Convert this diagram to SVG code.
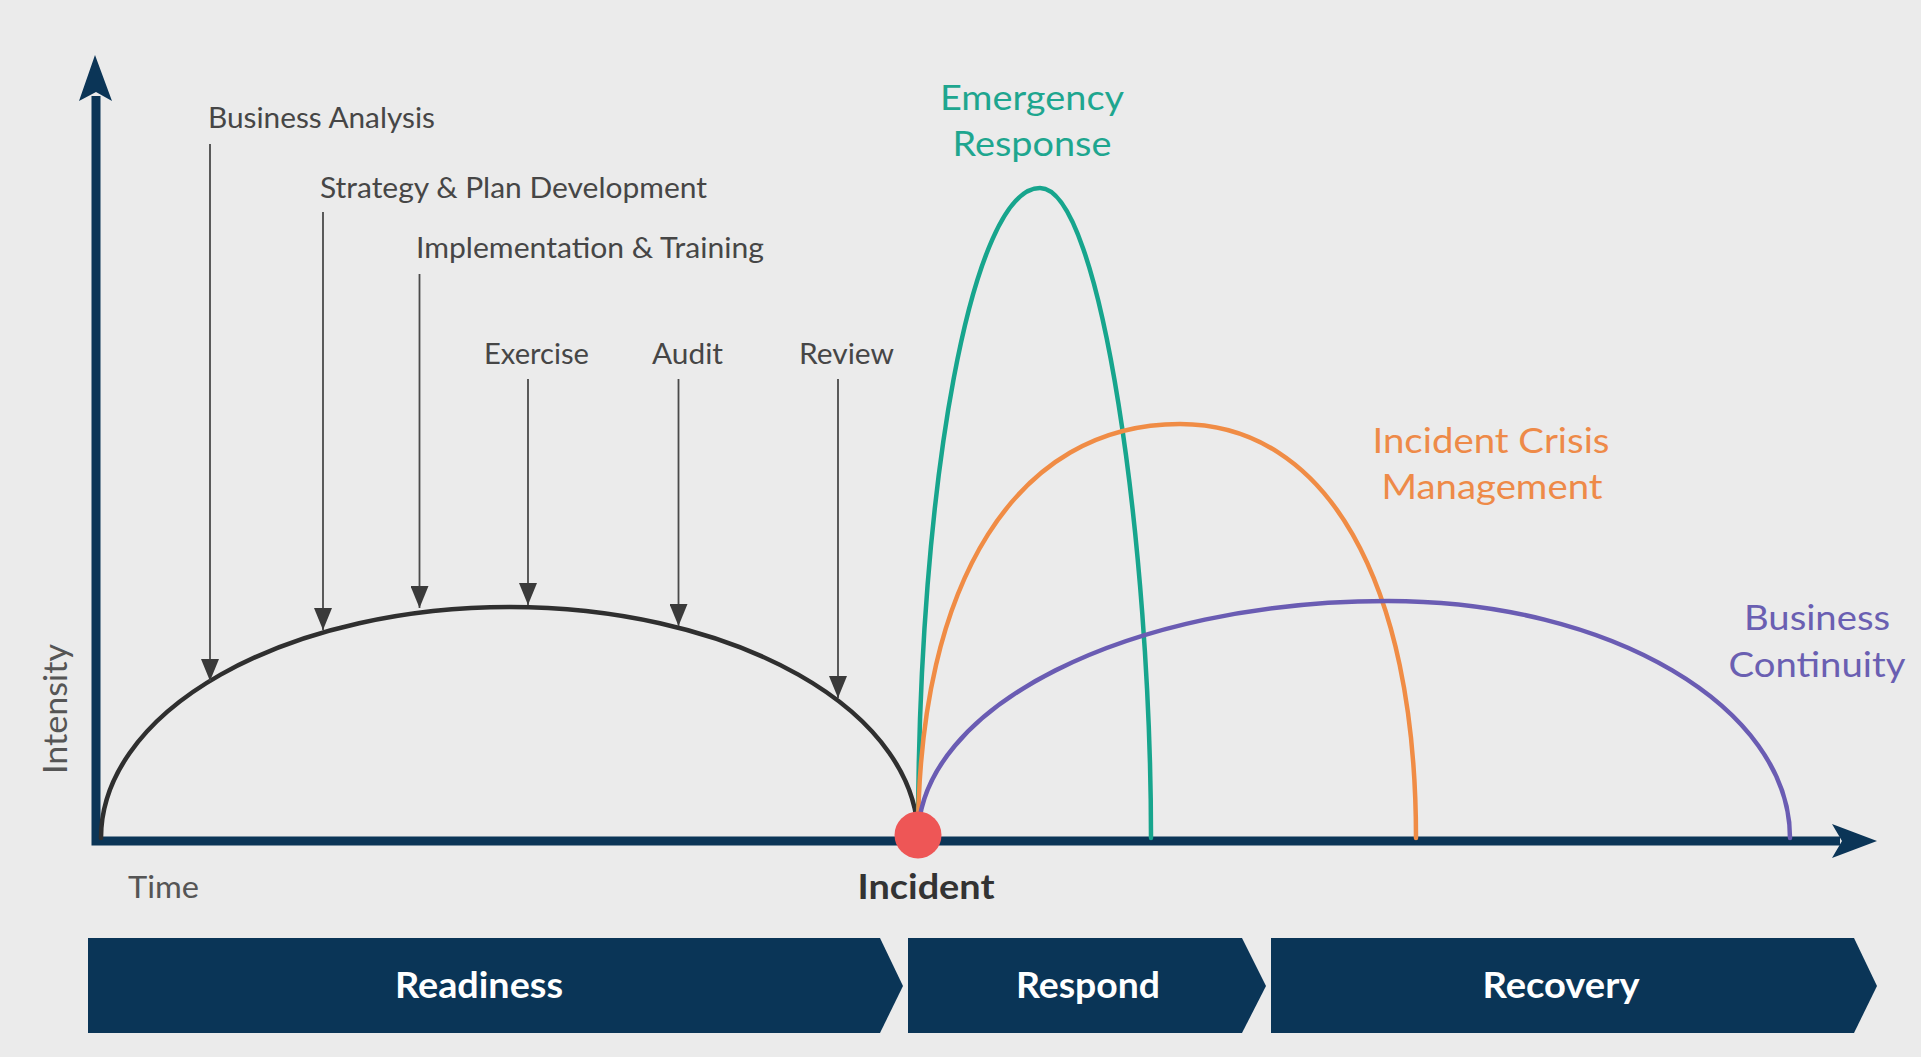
<svg xmlns="http://www.w3.org/2000/svg" width="1921" height="1057" viewBox="0 0 1921 1057">
<defs>
<style>
.lbl{font-family:Lato,"Open Sans","Liberation Sans",sans-serif;font-size:29px;fill:#464646}
.big{font-family:Lato,"Open Sans","Liberation Sans",sans-serif;font-size:35px}
.bar{fill:#0a3557}
.bartxt{font-family:Lato,"Open Sans","Liberation Sans",sans-serif;font-size:36px;font-weight:bold;fill:#ffffff;text-anchor:middle}
.pin{stroke:#4a4a4a;stroke-width:1.8;fill:none;marker-end:url(#ah)}
.curve{fill:none;stroke-width:4.5;stroke-linecap:round}
</style>
<marker id="ah" viewBox="0 0 22 18" refX="22" refY="9" markerWidth="22" markerHeight="18" markerUnits="userSpaceOnUse" orient="auto">
<path d="M0,0 L22,9 L0,18 z" fill="#3a3a3a"/>
</marker>
</defs>
<rect x="0" y="0" width="1921" height="1057" fill="#ebebeb"/>

<g id="axes">
<path d="M96,96 L96,841 L1840,841" fill="none" stroke="#0b3557" stroke-width="9" stroke-linejoin="miter"/>
<polygon points="95,55 112,101 96,92 79,101" fill="#0b3557"/>
<polygon points="1877,841 1832,824 1842,841 1832,858" fill="#0b3557"/>
<text x="67" y="709" transform="rotate(-90 67 709)" text-anchor="middle" textLength="130" lengthAdjust="spacingAndGlyphs" style="font-family:Lato,'Open Sans','Liberation Sans',sans-serif;font-size:32px;fill:#555">Intensity</text>
<text x="128" y="898" textLength="71" lengthAdjust="spacingAndGlyphs" style="font-family:Lato,'Open Sans','Liberation Sans',sans-serif;font-size:31px;fill:#555">Time</text>
</g>

<g id="readiness-curve">
<path class="curve" d="M101,838 A408.5,231 0 0 1 918,838" stroke="#2f2f2f"/>
</g>

<g id="emergency-response">
<path class="curve" d="M918,838 C918,479 972.6,188 1040,188 C1101.3,188 1151,547 1151,838" stroke="#17a58d"/>
<text class="big" x="1032" y="110" text-anchor="middle" textLength="184" lengthAdjust="spacingAndGlyphs" fill="#1ea68f">Emergency</text>
<text class="big" x="1032" y="156" text-anchor="middle" textLength="159" lengthAdjust="spacingAndGlyphs" fill="#1ea68f">Response</text>
</g>

<g id="incident-crisis-management">
<path class="curve" d="M918,838 C918,581 1017,424 1180,424 C1326,424 1416,581 1416,838" stroke="#f08c45"/>
<text class="big" x="1491" y="453" text-anchor="middle" textLength="237" lengthAdjust="spacingAndGlyphs" fill="#ee8a48">Incident Crisis</text>
<text class="big" x="1492" y="499" text-anchor="middle" textLength="221" lengthAdjust="spacingAndGlyphs" fill="#ee8a48">Management</text>
</g>

<g id="business-continuity">
<path class="curve" d="M918,838 C918,707 1128,601 1388,601 C1610,601 1790,707 1790,838" stroke="#6a5cb3"/>
<text class="big" x="1817" y="630" text-anchor="middle" textLength="146" lengthAdjust="spacingAndGlyphs" fill="#6a5fb2">Business</text>
<text class="big" x="1817" y="677" text-anchor="middle" textLength="177" lengthAdjust="spacingAndGlyphs" fill="#6a5fb2">Continuity</text>
</g>

<g id="incident">
<circle cx="918" cy="835" r="23.5" fill="#ee5656"/>
<text x="926" y="899" text-anchor="middle" textLength="137" lengthAdjust="spacingAndGlyphs" style="font-family:Lato,'Open Sans','Liberation Sans',sans-serif;font-size:35px;font-weight:bold;fill:#333">Incident</text>
</g>

<g id="activity-labels">
<text class="lbl" x="208" y="128" textLength="227" lengthAdjust="spacingAndGlyphs">Business Analysis</text>
<text class="lbl" x="320" y="198" textLength="387" lengthAdjust="spacingAndGlyphs">Strategy &amp; Plan Development</text>
<text class="lbl" x="416" y="258" textLength="348" lengthAdjust="spacingAndGlyphs">Implementation &amp; Training</text>
<text class="lbl" x="484" y="364" textLength="105" lengthAdjust="spacingAndGlyphs">Exercise</text>
<text class="lbl" x="652" y="364" textLength="71" lengthAdjust="spacingAndGlyphs">Audit</text>
<text class="lbl" x="799" y="364" textLength="95" lengthAdjust="spacingAndGlyphs">Review</text>
</g>

<g id="connectors">
<line class="pin" x1="210" y1="144" x2="210" y2="681"/>
<line class="pin" x1="323" y1="212" x2="323" y2="630"/>
<line class="pin" x1="419.5" y1="274" x2="419.5" y2="608"/>
<line class="pin" x1="528" y1="379" x2="528" y2="605"/>
<line class="pin" x1="678.5" y1="379" x2="678.5" y2="626"/>
<line class="pin" x1="838" y1="379" x2="838" y2="698"/>
</g>

<g id="phase-readiness">
<polygon class="bar" points="88,938 880,938 903,986 880,1033 88,1033"/>
<text class="bartxt" x="479" y="998" textLength="168" lengthAdjust="spacingAndGlyphs">Readiness</text>
</g>
<g id="phase-respond">
<polygon class="bar" points="908,938 1242,938 1266,986 1242,1033 908,1033"/>
<text class="bartxt" x="1088" y="998" textLength="144" lengthAdjust="spacingAndGlyphs">Respond</text>
</g>
<g id="phase-recovery">
<polygon class="bar" points="1271,938 1854,938 1877,986 1854,1033 1271,1033"/>
<text class="bartxt" x="1561" y="998" textLength="157" lengthAdjust="spacingAndGlyphs">Recovery</text>
</g>
</svg>
